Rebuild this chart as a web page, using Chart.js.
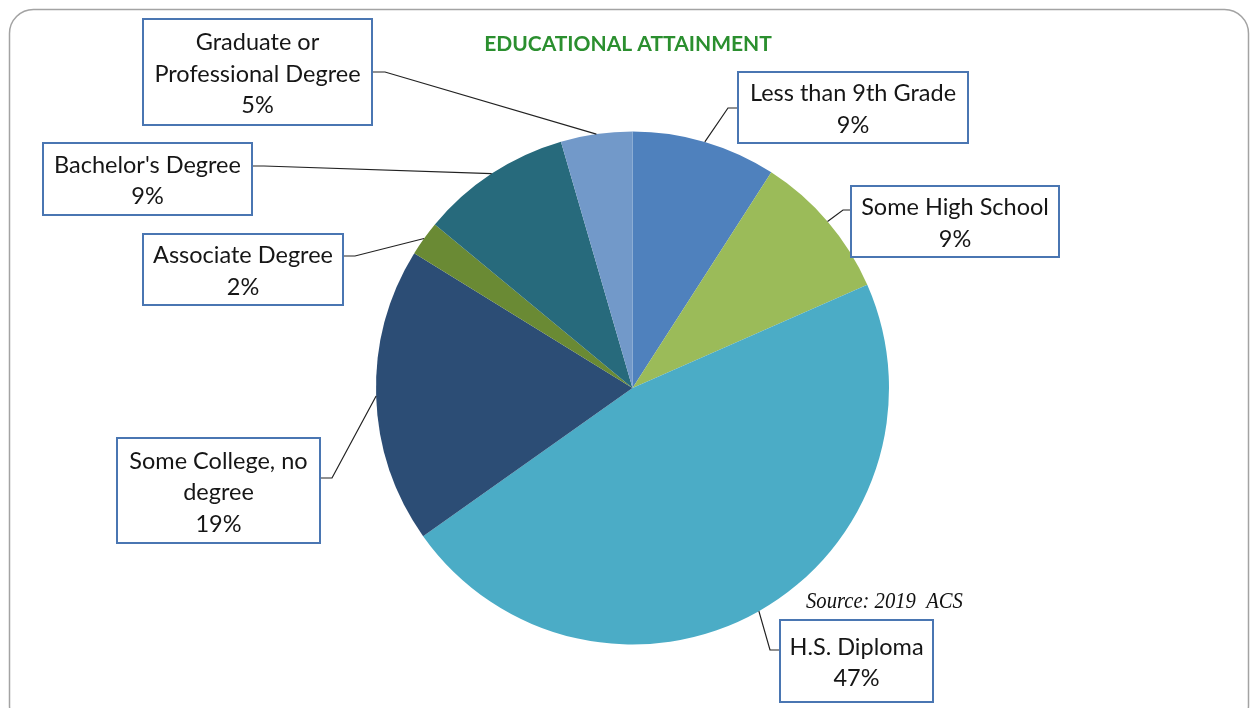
<!DOCTYPE html>
<html>
<head>
<meta charset="utf-8">
<script src="https://cdn.jsdelivr.net/npm/chart.js@4/dist/chart.umd.min.js"></script>
<style>
  html,body{margin:0;padding:0;background:#fff;}
  #wrap{width:1252px;height:708px;position:relative;}
</style>
</head>
<body>
<div id="wrap"><canvas id="eduChart" width="1252" height="708"></canvas></div>
<script>
// data (shares in %, clockwise from 12 o'clock)
const categories = ["Less than 9th Grade","Some High School","H.S. Diploma","Some College, no degree","Associate Degree","Bachelor's Degree","Graduate or Professional Degree"];
const shares = [9.1, 9.3, 46.8, 18.6, 2.2, 9.5, 4.5];
const shareLabels = ["9%","9%","47%","19%","2%","9%","5%"];
const labelLines = [["Less than 9th Grade"],["Some High School"],["H.S. Diploma"],["Some College, no","degree"],["Associate Degree"],["Bachelor's Degree"],["Graduate or","Professional Degree"]];
const chartTitle = "EDUCATIONAL ATTAINMENT";
const sourceNote = "Source: 2019  ACS";

const sliceColors = ["#4f81bd","#9bbb59","#4bacc6","#2c4d75","#6a8a34","#276a7c","#7299c9"];

// callout boxes: x, y, w, h, side the leader leaves from, leader y, elbow x
const boxes = [
  {x:738, y:72,  w:230, h:71,  side:"left",  ly:108, ex:728},
  {x:851, y:186, w:208, h:71,  side:"left",  ly:210, ex:843},
  {x:780, y:620, w:153, h:82,  side:"left",  ly:650, ex:770},
  {x:117, y:438, w:203, h:105, side:"right", ly:478, ex:332},
  {x:143, y:234, w:200, h:71,  side:"right", ly:256, ex:355},
  {x:43,  y:143, w:209, h:72,  side:"right", ly:166, ex:264},
  {x:143, y:19,  w:229, h:106, side:"right", ly:72,  ex:385}
];

const calloutPlugin = {
  id:"callouts",
  beforeDraw(chart){
    const c = chart.ctx;
    c.save();
    c.fillStyle = "#fff";
    c.fillRect(0,0,chart.width,chart.height);
    // outer rounded frame
    c.strokeStyle = "#a3a3a3";
    c.lineWidth = 1.5;
    c.beginPath();
    c.roundRect(9.5, 9.5, 1239, 720, 24);
    c.stroke();
    c.restore();
  },
  afterDraw(chart){
    const c = chart.ctx;
    const meta = chart.getDatasetMeta(0);
    c.save();

    // title
    c.fillStyle = "#2b8f2f";
    c.font = "bold 21px Lato";
    c.textAlign = "center";
    c.textBaseline = "middle";
    c.fillText(chartTitle, 628, 44);

    // source note (narrowed serif italic)
    c.save();
    c.translate(806, 602);
    c.scale(0.86, 1);
    c.fillStyle = "#111";
    c.font = "italic 24px 'Liberation Serif'";
    c.textAlign = "left";
    c.fillText(sourceNote, 0, 0);
    c.restore();

    meta.data.forEach((arc, i) => {
      const b = boxes[i];
      const p = arc.getProps(["x","y","startAngle","endAngle","outerRadius"], true);
      const mid = (p.startAngle + p.endAngle) / 2;
      const ax = p.x + Math.cos(mid) * p.outerRadius;
      const ay = p.y + Math.sin(mid) * p.outerRadius;
      const sx = b.side === "left" ? b.x : b.x + b.w;

      // leader line
      c.strokeStyle = "#222";
      c.lineWidth = 1.2;
      c.beginPath();
      c.moveTo(sx, b.ly);
      c.lineTo(b.ex, b.ly);
      c.lineTo(ax, ay);
      c.stroke();

      // box
      c.fillStyle = "#fff";
      c.fillRect(b.x, b.y, b.w, b.h);
      c.strokeStyle = "#4a76b2";
      c.lineWidth = 2;
      c.strokeRect(b.x, b.y, b.w, b.h);

      // text
      const lines = labelLines[i].concat([shareLabels[i]]);
      const lh = 31.5;
      const cx = b.x + b.w / 2;
      const top = b.y + b.h / 2 - (lines.length - 1) * lh / 2 + 2;
      c.fillStyle = "#161616";
      c.font = "23.5px Lato";
      c.textAlign = "center";
      c.textBaseline = "middle";
      lines.forEach((t, k) => c.fillText(t, cx, top + k * lh));
    });
    c.restore();
  }
};

new Chart(document.getElementById("eduChart"), {
  type:"pie",
  data:{
    labels:categories,
    datasets:[{
      data:shares,
      backgroundColor:sliceColors,
      borderWidth:0
    }]
  },
  options:{
    responsive:false,
    animation:false,
    events:[],
    layout:{padding:{top:131.5, bottom:63.5, left:376, right:363}},
    plugins:{legend:{display:false}, tooltip:{enabled:false}, title:{display:false}}
  },
  plugins:[calloutPlugin]
});
</script>
</body>
</html>
